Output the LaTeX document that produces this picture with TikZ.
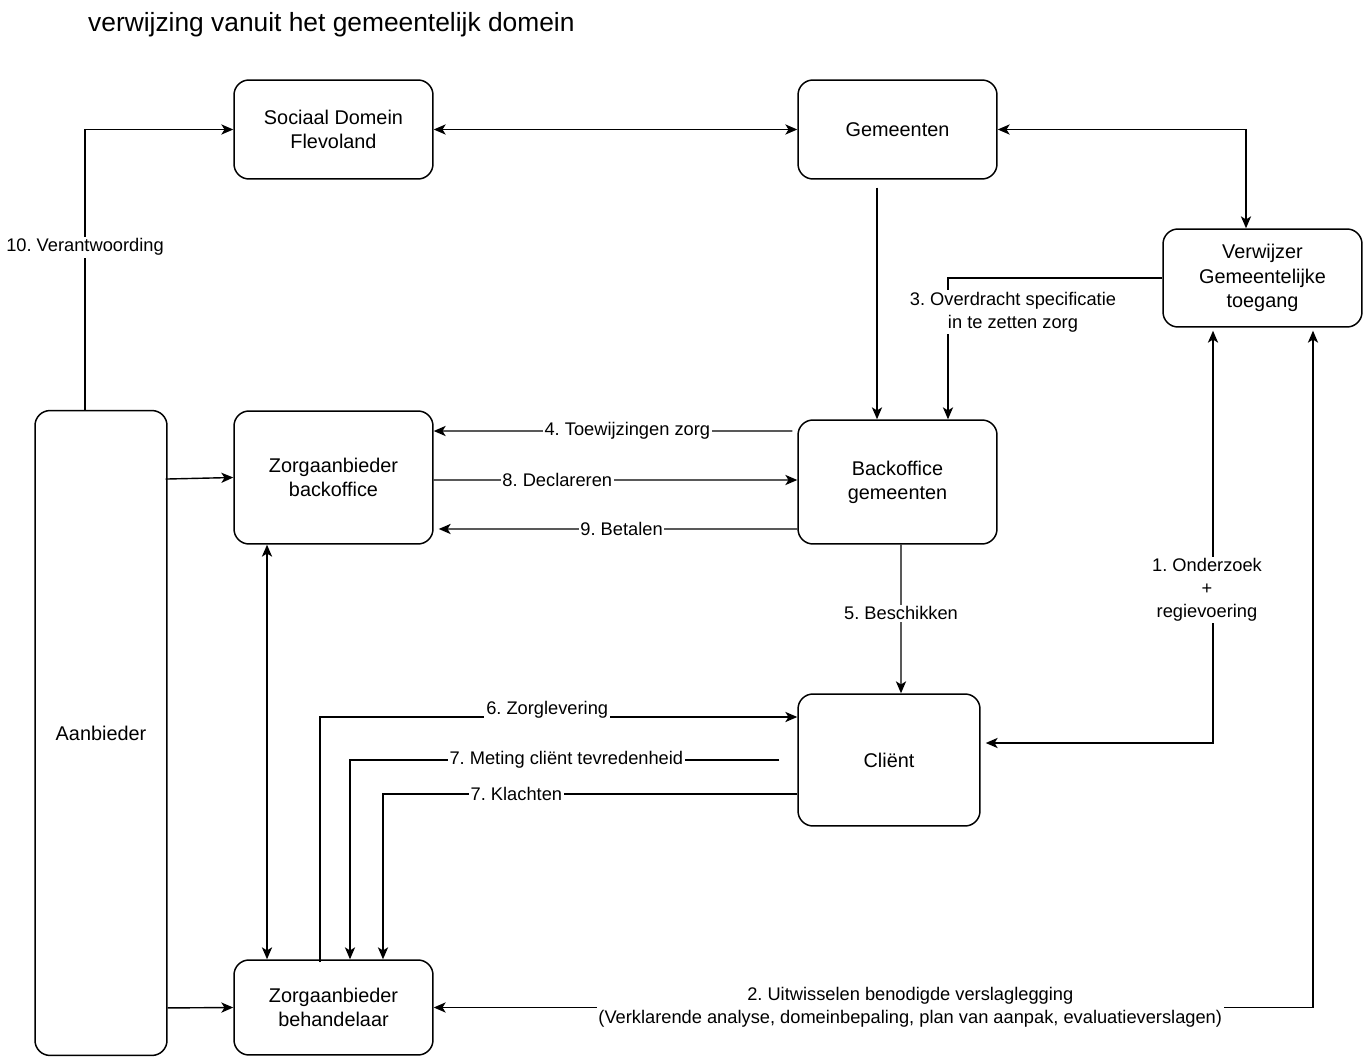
\documentclass[tikz,border=0pt]{standalone}
\usepackage{fontspec}
\setmainfont{Liberation Sans}
\usepackage{tikz}
\usetikzlibrary{positioning,arrows.meta}
\frenchspacing

\begin{document}
\begin{tikzpicture}[
  x=0.02cm, y=-0.02cm,
  box/.style={rectangle, draw, line width=0.85pt, rounded corners=0.3cm, inner sep=0pt,
              minimum width=3.98cm, minimum height=1.98cm, align=center,
              font=\fontsize{11.3}{13.8}\selectfont},
  ar/.style={-{Stealth[length=6.8pt,width=5.8pt,inset=1.8pt]}, line width=0.8pt},
  dar/.style={{Stealth[length=6.8pt,width=5.8pt,inset=1.8pt]}-{Stealth[length=6.8pt,width=5.8pt,inset=1.8pt]}, line width=0.8pt},
  lbl/.style={fill=white, inner sep=1pt, align=center, font=\fontsize{10.4}{13}\selectfont},
]
\useasboundingbox (0,0) rectangle (1367,1057);

\node[anchor=west, font=\fontsize{15}{18}\selectfont] (title) at (82,25) {verwijzing vanuit het gemeentelijk domein};

% boxes
\node[box]                                  (sdf)  at (333.5,129.5) {Sociaal Domein\\Flevoland};
\node[box]                                  (gem)  at (897.5,129.5) {Gemeenten};
\node[box, minimum height=1.96cm]           (verw) at (1262.5,278)  {Verwijzer\\Gemeentelijke\\toegang};
\node[box, minimum width=2.64cm, minimum height=12.9cm] (aanb) at (101,733) {Aanbieder};
\node[box, minimum height=2.66cm]           (zab)  at (333.5,477.5) {Zorgaanbieder\\backoffice};
\node[box, minimum height=2.48cm]           (bog)  at (897.5,482)   {Backoffice\\gemeenten};
\node[box, minimum width=3.64cm, minimum height=2.64cm] (cli) at (889,760) {Cliënt};
\node[box, minimum height=1.9cm]            (zbh)  at (333.5,1007.5) {Zorgaanbieder\\behandelaar};

% top row
\draw[dar] (sdf) -- (gem);
\draw[dar] (gem.east) -| ([xshift=-0.33cm]verw.north);
\draw[ar] ([xshift=-0.41cm,yshift=-0.16cm]gem.south) -- ([xshift=-0.41cm]bog.north);
\draw[ar] (verw.west) -| ([xshift=1.01cm]bog.north)
  node[lbl, pos=0.62, xshift=1.3cm] {3. Overdracht specificatie\\in te zetten zorg};
\draw[ar] ([xshift=-0.32cm]aanb.north) |- (sdf.west)
  node[lbl, pos=0.29] {10. Verantwoording};

% backoffice traffic
\draw[ar] ([xshift=-0.1cm,yshift=1.02cm]bog.west) -- ([yshift=0.93cm]zab.east)
  node[lbl, pos=0.46] {4. Toewijzingen zorg};
\draw[ar] ([yshift=-0.05cm]zab.east) -- ([yshift=0.04cm]bog.west)
  node[lbl, pos=0.34] {8. Declareren};
\draw[ar] ([yshift=-0.94cm]bog.west) -- ([xshift=0.1cm,yshift=-1.03cm]zab.east)
  node[lbl, pos=0.49] {9. Betalen};
\draw[ar] ([xshift=0.07cm]bog.south) -- ([xshift=0.24cm]cli.north)
  node[lbl, pos=0.46] {5. Beschikken};

% verwijzer links
\draw[dar] ([xshift=0.1cm,yshift=0.34cm]cli.east) -| ([xshift=-0.99cm,yshift=-0.06cm]verw.south)
  node[lbl, pos=0.686, xshift=-0.12cm] {1. Onderzoek\\+\\regievoering};
\draw[dar] (zbh.east) -| ([xshift=1.01cm,yshift=-0.06cm]verw.south)
  node[lbl, pos=0.271] {2. Uitwisselen benodigde verslaglegging\\(Verklarende analyse, domeinbepaling, plan van aanpak, evaluatieverslagen)};

% client traffic
\draw[ar] ([xshift=-0.27cm,yshift=-0.06cm]zbh.north) |- ([yshift=0.86cm]cli.west)
  node[lbl, pos=0.738, yshift=0.14cm] {6. Zorglevering};
\draw[ar] ([xshift=-0.36cm]cli.west) -| ([xshift=0.33cm]zbh.north)
  node[lbl, pos=0.248] {7. Meting cliënt tevredenheid};
\draw[ar] ([yshift=-0.68cm]cli.west) -| ([xshift=0.99cm]zbh.north)
  node[lbl, pos=0.339] {7. Klachten};

% aanbieder side
\draw[dar] ([xshift=-1.33cm]zab.south) -- ([xshift=-1.33cm]zbh.north);
\draw[ar] ([xshift=-0.04cm,yshift=5.08cm]aanb.east) -- (zab.west);
\draw[ar] ([yshift=-5.5cm]aanb.east) -- (zbh.west);
\end{tikzpicture}
\end{document}
